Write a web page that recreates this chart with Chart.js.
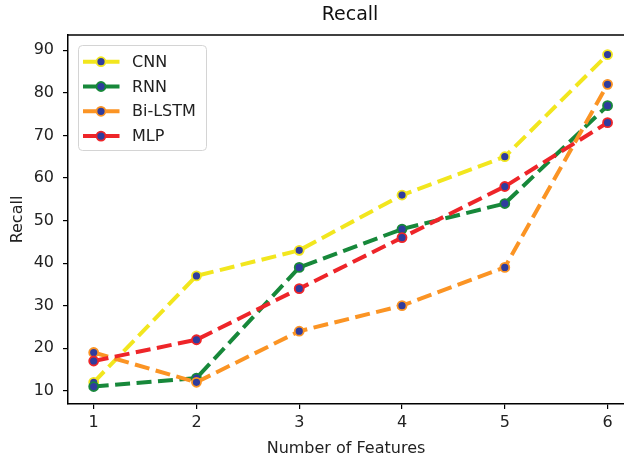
<!DOCTYPE html>
<html>
<head>
<meta charset="utf-8">
<script src="https://cdn.jsdelivr.net/npm/chart.js@4.4.0/dist/chart.umd.min.js"></script>
<style>
  html, body { margin: 0; padding: 0; background: #fff; }
  #wrap { width: 624px; height: 457px; }
</style>
</head>
<body>
<div id="wrap"><canvas id="recall"></canvas></div>
<script>
// Data
var features = [1, 2, 3, 4, 5, 6];
var cnn    = [12, 37, 43, 56, 65, 89];
var rnn    = [11, 13, 39, 48, 54, 77];
var biLstm = [19, 12, 24, 30, 39, 82];
var mlp    = [17, 22, 34, 46, 58, 73];
var yTicks = [10, 20, 30, 40, 50, 60, 70, 80, 90];

var FONT = 'DejaVu Sans';
var MARKER = '#2f3c9e';
var TITLE = 'Recall';

/*
 * Build one dashed series with round markers
 */
var makeSeries = function(label, values, color, order) {
    return {
        label: label,
        data: values.map(function(v, i) { return { x: features[i], y: v }; }),
        borderColor: color,
        backgroundColor: color,
        borderWidth: 4,
        borderDash: [15, 6.5],
        borderCapStyle: 'butt',
        pointRadius: 4.5,
        pointBorderWidth: 1.8,
        pointBackgroundColor: MARKER,
        pointBorderColor: color,
        tension: 0,
        fill: false,
        clip: false,
        order: order
    };
};

// Title centred over the full (uncropped) axes, top spine, and legend box
var framePlugin = {
    id: 'frame',
    afterDatasetsDraw: function(chart) {
        var ctx = chart.ctx;
        var area = chart.chartArea;

        ctx.save();
        ctx.fillStyle = '#111';
        ctx.font = '19px "' + FONT + '"';
        ctx.textAlign = 'center';
        ctx.textBaseline = 'middle';
        ctx.fillText(TITLE, 350, 15);
        ctx.restore();

        // top spine
        ctx.save();
        ctx.strokeStyle = '#000';
        ctx.lineWidth = 1.5;
        ctx.beginPath();
        ctx.moveTo(area.left, area.top);
        ctx.lineTo(area.right, area.top);
        ctx.stroke();
        ctx.restore();

        // legend
        var x0 = 78, y0 = 45, w = 128, h = 105, r = 4;
        ctx.save();
        ctx.fillStyle = 'rgba(255,255,255,0.85)';
        ctx.strokeStyle = '#d4d4d4';
        ctx.lineWidth = 1;
        ctx.beginPath();
        ctx.roundRect(x0 + 0.5, y0 + 0.5, w, h, r);
        ctx.fill();
        ctx.stroke();

        chart.data.datasets.forEach(function(ds, i) {
            var y = 61.7 + i * 24.8;
            ctx.setLineDash([15, 6.5]);
            ctx.lineCap = 'butt';
            ctx.strokeStyle = ds.borderColor;
            ctx.lineWidth = 4;
            ctx.beginPath();
            ctx.moveTo(83, y);
            ctx.lineTo(120, y);
            ctx.stroke();
            ctx.setLineDash([]);

            ctx.beginPath();
            ctx.arc(101, y, 4.5, 0, Math.PI * 2);
            ctx.fillStyle = MARKER;
            ctx.fill();
            ctx.lineWidth = 1.8;
            ctx.strokeStyle = ds.borderColor;
            ctx.stroke();

            ctx.fillStyle = '#222';
            ctx.font = '16px "' + FONT + '"';
            ctx.textBaseline = 'middle';
            ctx.fillText(ds.label, 132, y + 1);
        });
        ctx.restore();
    }
};

var ctx = document.getElementById('recall').getContext('2d');
var chart = new Chart(ctx, {
    type: 'line',
    data: {
        datasets: [
            makeSeries('CNN', cnn, '#f2e61e', 4),
            makeSeries('RNN', rnn, '#17883a', 3),
            makeSeries('Bi-LSTM', biLstm, '#fb9424', 2),
            makeSeries('MLP', mlp, '#ee2529', 1)
        ]
    },
    options: {
        responsive: true,
        maintainAspectRatio: false,
        animation: false,
        layout: { padding: { top: 35, left: 0, right: 0, bottom: 0 }, autoPadding: false },
        plugins: {
            legend: { display: false },
            tooltip: { enabled: false },
            title: { display: false }
        },
        scales: {
            x: {
                type: 'linear',
                min: 0.75,
                max: 6.16,
                afterFit: function(scale) {
                    scale.height = 53;
                    // let the plot run to the right edge like the cropped original
                    scale.paddingLeft = 0;
                    scale.paddingRight = 0;
                },
                afterBuildTicks: function(scale) {
                    scale.ticks = features.map(function(v) { return { value: v }; });
                },
                border: { display: true, color: '#000', width: 1.5 },
                grid: { drawOnChartArea: false, drawTicks: true, tickLength: 5, color: '#000', lineWidth: 1.2 },
                ticks: {
                    color: '#222',
                    padding: 4,
                    maxRotation: 0,
                    autoSkip: false,
                    font: { family: FONT, size: 16 }
                },
                title: {
                    display: true,
                    text: 'Number of Features',
                    color: '#222',
                    font: { family: FONT, size: 16, lineHeight: 1 },
                    padding: { top: 0, bottom: 0 }
                }
            },
            y: {
                type: 'linear',
                min: 6.9,
                max: 93.6,
                afterFit: function(scale) {
                    scale.width = 68;
                    scale.paddingTop = 0;
                    scale.paddingBottom = 0;
                },
                afterBuildTicks: function(scale) {
                    scale.ticks = yTicks.map(function(v) { return { value: v }; });
                },
                border: { display: true, color: '#000', width: 1.5 },
                grid: { drawOnChartArea: false, drawTicks: true, tickLength: 5, color: '#000', lineWidth: 1.2 },
                ticks: {
                    color: '#222',
                    padding: 9,
                    autoSkip: false,
                    font: { family: FONT, size: 16 }
                },
                title: {
                    display: true,
                    text: 'Recall',
                    color: '#222',
                    font: { family: FONT, size: 16, lineHeight: 1.2 },
                    padding: { top: 8.4, bottom: 0 }
                }
            }
        }
    },
    plugins: [framePlugin]
});
</script>
</body>
</html>
